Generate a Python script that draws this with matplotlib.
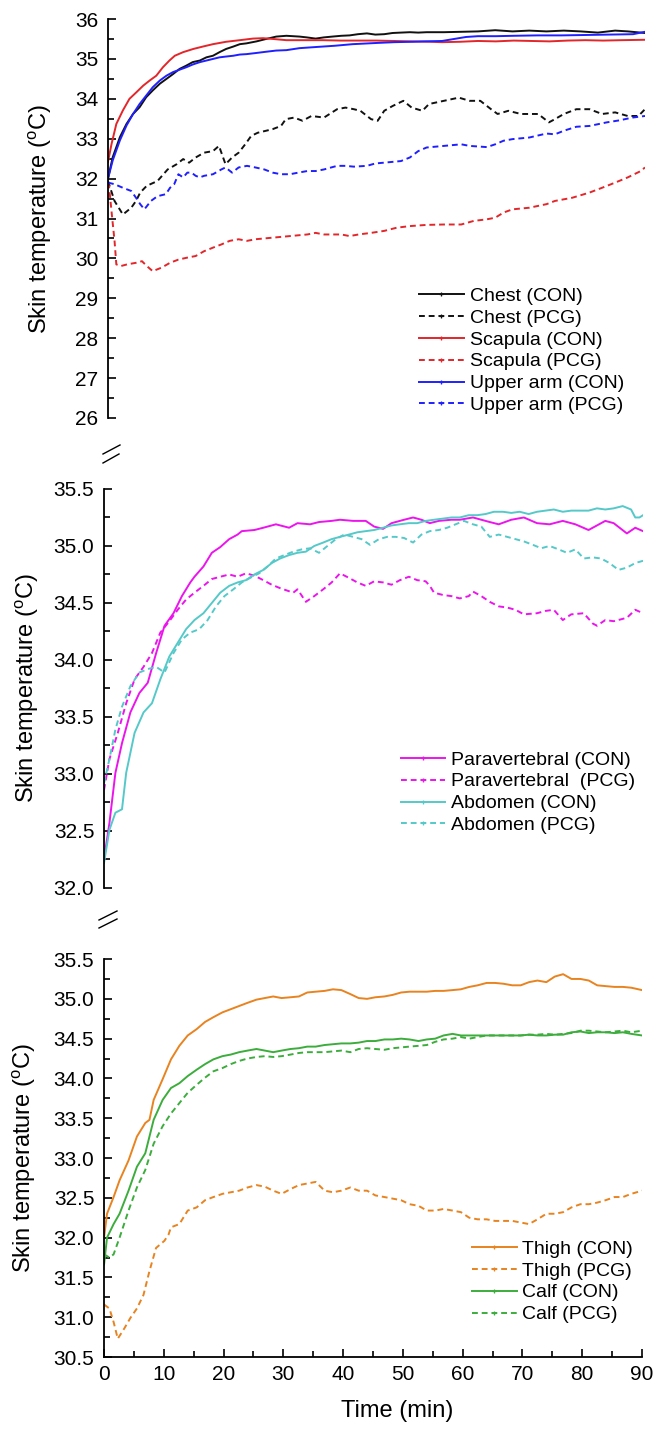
import matplotlib
matplotlib.use('Agg')
import matplotlib.pyplot as plt
from matplotlib.lines import Line2D
from matplotlib.ticker import MultipleLocator, FormatStrFormatter

plt.rcParams['font.family'] = ['Liberation Sans', 'DejaVu Sans']
plt.rcParams['mathtext.fontset'] = 'custom'
plt.rcParams['mathtext.rm'] = 'Liberation Sans'

# ---- top panel: chest, scapula, upper arm ----
chest_con_t = [0, 0.8, 2.0, 3.1, 4.2, 5.3, 6.4, 7.5, 8.7, 9.8, 10.9, 12.0, 13.1, 14.2, 15.4, 16.5,
               17.6, 18.7, 19.8, 21.0, 22.1, 23.2, 24.9, 26.5, 28.2, 29.9, 32.1, 33.3, 34.8, 36.2,
               37.6, 39.1, 40.5, 41.9, 43.4, 44.8, 46.3, 47.7, 49.1, 50.6, 52.0, 53.4, 56.3, 59.2,
               62.0, 64.9, 67.8, 70.6, 73.5, 76.4, 79.2, 82.1, 85.0, 87.1, 90.0]
chest_con_y = [32.0, 32.54, 33.04, 33.37, 33.62, 33.79, 34.04, 34.21, 34.38, 34.50, 34.62, 34.75,
               34.83, 34.92, 34.96, 35.04, 35.08, 35.17, 35.25, 35.31, 35.37, 35.39, 35.44, 35.50,
               35.56, 35.58, 35.56, 35.54, 35.51, 35.54, 35.56, 35.58, 35.59, 35.62, 35.64, 35.61,
               35.62, 35.65, 35.66, 35.67, 35.66, 35.67, 35.67, 35.68, 35.69, 35.72, 35.69, 35.71,
               35.69, 35.71, 35.69, 35.66, 35.71, 35.69, 35.65]

chest_pcg_t = [0, 1.1, 2.5, 3.9, 4.7, 5.4, 6.5, 8.3, 10.0, 11.5, 12.6, 13.6, 14.7, 16.1, 17.6, 18.6,
               19.7, 20.8, 21.9, 23.0, 24.0, 25.1, 26.5, 27.6, 29.0, 29.8, 31.2, 32.6, 34.1, 36.2,
               38.4, 39.8, 41.2, 42.3, 44.1, 45.2, 46.3, 47.7, 49.5, 50.9, 52.7, 53.8, 56.3, 58.8,
               60.6, 62.4, 64.2, 65.3, 67.1, 69.2, 72.1, 73.9, 74.9, 76.4, 78.5, 80.7, 82.8, 85.0,
               87.1, 88.9, 90.0]
chest_pcg_y = [31.94, 31.44, 31.10, 31.27, 31.44, 31.65, 31.82, 31.94, 32.23, 32.36, 32.49, 32.40,
               32.53, 32.65, 32.69, 32.82, 32.36, 32.53, 32.65, 32.86, 33.07, 33.15, 33.20, 33.24,
               33.32, 33.49, 33.53, 33.45, 33.57, 33.53, 33.74, 33.78, 33.74, 33.70, 33.49, 33.45,
               33.70, 33.82, 33.95, 33.78, 33.70, 33.87, 33.95, 34.03, 33.95, 33.95, 33.74, 33.62,
               33.70, 33.62, 33.62, 33.41, 33.49, 33.62, 33.74, 33.74, 33.62, 33.66, 33.57, 33.57,
               33.74]

scapula_con_t = [0, 0.6, 1.4, 2.5, 3.6, 4.8, 5.9, 7.0, 8.1, 9.2, 10.3, 11.2, 12.6, 14.3, 15.9, 17.6,
                 19.8, 22.1, 24.3, 26.0, 27.7, 29.9, 33, 36, 39, 42, 45, 48, 51, 54, 56, 59, 62,
                 65, 68, 71, 74, 77, 80, 83, 86, 90]
scapula_con_y = [32.42, 32.87, 33.37, 33.71, 34.0, 34.17, 34.33, 34.46, 34.58, 34.79, 34.96, 35.08,
                 35.17, 35.25, 35.31, 35.37, 35.43, 35.47, 35.51, 35.52, 35.50, 35.47, 35.47, 35.47,
                 35.46, 35.46, 35.46, 35.45, 35.44, 35.43, 35.42, 35.43, 35.45, 35.44, 35.46, 35.45,
                 35.44, 35.46, 35.47, 35.46, 35.47, 35.48]

scapula_pcg_t = [0, 0.2, 0.7, 1.1, 1.4, 2.2, 3.2, 4.7, 5.7, 6.5, 7.5, 9.0, 10.4, 11.8, 13.3, 14.7,
                 16.1, 17.6, 19.0, 20.4, 21.9, 23.3, 24.7, 27.6, 30.5, 33.4, 34.8, 36.2, 39.1, 40.5,
                 42.0, 44.1, 46.3, 48.4, 50.6, 53.4, 56.3, 59.2, 61.3, 63.5, 64.9, 66.3, 67.8, 70.6,
                 73.5, 74.9, 77.8, 80.7, 82.8, 85.0, 87.1, 89.3, 90.0]
scapula_pcg_y = [31.9, 31.77, 31.02, 30.44, 29.85, 29.81, 29.85, 29.89, 29.93, 29.81, 29.68, 29.77,
                 29.89, 29.97, 30.02, 30.06, 30.18, 30.27, 30.35, 30.44, 30.48, 30.44, 30.48, 30.52,
                 30.56, 30.60, 30.64, 30.60, 30.60, 30.56, 30.60, 30.64, 30.69, 30.77, 30.81, 30.84,
                 30.85, 30.85, 30.94, 30.98, 31.02, 31.15, 31.23, 31.27, 31.36, 31.44, 31.52, 31.65,
                 31.77, 31.90, 32.03, 32.19, 32.28]

upper_con_t = [0, 0.8, 2.0, 3.1, 4.2, 5.3, 6.4, 7.5, 8.7, 9.8, 10.9, 12.0, 13.1, 14.2, 15.4, 16.5,
               17.6, 18.7, 19.8, 21.0, 22.1, 23.2, 24.9, 26.5, 28.2, 29.9, 32.1, 35, 38, 41, 45,
               48, 51, 53, 56, 58, 60, 62, 65, 68, 72, 76, 80, 84, 88, 90]
upper_con_y = [32.0, 32.46, 32.96, 33.33, 33.62, 33.87, 34.08, 34.29, 34.46, 34.58, 34.67, 34.73,
               34.79, 34.86, 34.92, 34.96, 35.0, 35.04, 35.06, 35.08, 35.11, 35.12, 35.15, 35.18,
               35.21, 35.22, 35.27, 35.30, 35.33, 35.37, 35.40, 35.42, 35.43, 35.44, 35.45, 35.50,
               35.55, 35.57, 35.57, 35.58, 35.59, 35.59, 35.60, 35.61, 35.62, 35.68]

upper_pcg_t = [0, 1.1, 2.5, 3.9, 4.7, 5.4, 6.1, 7.2, 8.3, 9.7, 10.4, 11.1, 11.8, 12.6, 13.3, 14.0,
               14.7, 15.4, 16.1, 17.6, 19.0, 19.7, 20.8, 21.9, 23.3, 24.7, 26.2, 27.6, 29.0, 30.5,
               31.9, 33.4, 34.8, 36.2, 38.4, 39.8, 41.2, 43.4, 44.8, 46.3, 49.1, 50.6, 52.0, 53.4,
               56.3, 59.2, 60.6, 63.5, 64.9, 66.3, 67.8, 70.6, 73.5, 74.9, 76.4, 78.5, 80.7, 83.6,
               85.7, 87.9, 90.0]
upper_pcg_y = [31.90, 31.86, 31.77, 31.69, 31.52, 31.36, 31.23, 31.44, 31.56, 31.61, 31.77, 31.86,
               32.11, 32.03, 32.15, 32.15, 32.07, 32.03, 32.07, 32.11, 32.23, 32.28, 32.15, 32.28,
               32.32, 32.28, 32.23, 32.15, 32.11, 32.11, 32.15, 32.19, 32.19, 32.23, 32.32, 32.32,
               32.30, 32.32, 32.38, 32.40, 32.44, 32.53, 32.69, 32.78, 32.82, 32.86, 32.82, 32.79,
               32.86, 32.95, 32.99, 33.03, 33.13, 33.11, 33.20, 33.30, 33.32, 33.41, 33.46, 33.53,
               33.57]

# ---- middle panel: paravertebral, abdomen ----
para_con_t = [0, 0.9, 1.9, 3.0, 4.4, 5.9, 7.3, 8.7, 10.1, 11.6, 13.0, 14.4, 15.1, 16.6, 18.0, 19.4,
              20.9, 22.3, 23.0, 25.1, 26.6, 28.7, 30.9, 32.3, 34.4, 35.9, 38.0, 39.4, 41.6, 43.7,
              45.1, 46.6, 48.0, 50.1, 51.6, 53.0, 54.4, 55.9, 58.0, 59.4, 61.6, 63.0, 64.4, 65.9,
              68.0, 70.1, 72.3, 74.4, 76.6, 78.7, 80.9, 83.7, 85.1, 87.3, 88.7, 90.0]
para_con_y = [32.25, 32.57, 33.01, 33.27, 33.54, 33.71, 33.80, 34.06, 34.30, 34.41, 34.56, 34.68,
              34.73, 34.82, 34.94, 34.99, 35.06, 35.10, 35.13, 35.14, 35.16, 35.19, 35.16, 35.20,
              35.19, 35.21, 35.22, 35.23, 35.22, 35.22, 35.17, 35.15, 35.20, 35.23, 35.25, 35.23,
              35.20, 35.22, 35.23, 35.23, 35.25, 35.23, 35.21, 35.19, 35.23, 35.25, 35.20, 35.19,
              35.22, 35.19, 35.14, 35.22, 35.20, 35.11, 35.16, 35.13]

para_pcg_t = [0, 0.9, 2.3, 3.7, 5.1, 6.6, 8.0, 9.4, 10.9, 12.3, 13.7, 15.1, 16.6, 18.0, 19.4, 20.9,
              22.3, 23.7, 25.1, 26.6, 28.0, 29.4, 31.6, 32.3, 33.7, 35.1, 36.6, 38.0, 39.4, 40.9,
              42.3, 43.7, 45.1, 46.6, 48.0, 49.4, 50.9, 52.3, 53.7, 54.4, 55.1, 56.6, 58.0, 59.4,
              60.9, 61.6, 63.0, 64.4, 65.9, 67.3, 68.7, 70.1, 72.3, 73.7, 75.1, 76.6, 78.0, 80.1,
              81.6, 82.3, 83.7, 85.1, 87.3, 88.7, 90.0]
para_pcg_y = [32.86, 33.13, 33.36, 33.62, 33.83, 33.94, 34.06, 34.24, 34.34, 34.44, 34.53, 34.59,
              34.65, 34.71, 34.73, 34.75, 34.73, 34.76, 34.74, 34.70, 34.66, 34.63, 34.59, 34.62,
              34.51, 34.56, 34.62, 34.68, 34.76, 34.72, 34.68, 34.65, 34.69, 34.68, 34.66, 34.70,
              34.73, 34.70, 34.69, 34.65, 34.59, 34.57, 34.56, 34.54, 34.56, 34.60, 34.56, 34.51,
              34.47, 34.46, 34.44, 34.40, 34.41, 34.43, 34.44, 34.35, 34.40, 34.41, 34.32, 34.30,
              34.35, 34.34, 34.37, 34.44, 34.41]

abd_con_t = [0, 0.9, 1.9, 3.0, 3.7, 5.1, 6.6, 8.0, 9.4, 10.9, 12.3, 13.7, 15.1, 16.6, 18.0, 19.4,
             20.9, 22.3, 23.7, 25.1, 26.6, 28.0, 29.4, 30.9, 32.3, 33.7, 35.1, 36.6, 38.0, 39.4,
             40.9, 42.3, 43.7, 45.1, 46.6, 48.0, 49.4, 50.9, 52.3, 53.7, 55.1, 56.6, 58.0, 59.4,
             60.9, 62.3, 63.7, 65.1, 66.6, 68.0, 69.4, 70.9, 72.3, 73.7, 75.1, 76.6, 78.0, 79.4,
             80.9, 82.3, 83.7, 85.1, 86.6, 88.0, 88.7, 89.4, 90.0]
abd_con_y = [32.22, 32.51, 32.66, 32.69, 33.01, 33.36, 33.54, 33.62, 33.83, 34.03, 34.15, 34.27,
             34.35, 34.41, 34.50, 34.59, 34.65, 34.68, 34.70, 34.75, 34.79, 34.85, 34.89, 34.92,
             34.94, 34.95, 35.00, 35.03, 35.06, 35.08, 35.10, 35.12, 35.13, 35.14, 35.16, 35.18,
             35.19, 35.20, 35.20, 35.22, 35.23, 35.24, 35.25, 35.25, 35.27, 35.27, 35.28, 35.30,
             35.30, 35.29, 35.30, 35.28, 35.30, 35.31, 35.32, 35.30, 35.31, 35.31, 35.31, 35.33,
             35.32, 35.33, 35.35, 35.32, 35.25, 35.25, 35.27]

abd_pcg_t = [0, 0.9, 1.9, 3.0, 4.4, 5.9, 7.3, 8.7, 10.1, 11.6, 13.0, 14.4, 15.9, 17.3, 18.7, 20.1,
             21.6, 23.0, 24.4, 25.9, 27.3, 28.7, 30.1, 31.6, 33.0, 34.4, 35.9, 37.3, 38.7, 40.1,
             41.6, 43.0, 44.4, 45.9, 47.3, 48.7, 50.1, 51.6, 53.0, 54.4, 55.9, 57.3, 58.7, 60.1,
             61.6, 63.0, 64.4, 65.9, 67.3, 68.7, 70.1, 71.6, 73.0, 74.4, 75.9, 77.3, 78.7, 80.1,
             81.6, 83.0, 84.4, 85.9, 87.3, 88.7, 90.0]
abd_pcg_y = [32.92, 33.13, 33.39, 33.59, 33.77, 33.89, 33.92, 33.94, 33.89, 34.06, 34.18, 34.24,
             34.27, 34.35, 34.47, 34.56, 34.62, 34.68, 34.72, 34.76, 34.82, 34.89, 34.92, 34.95,
             34.97, 34.98, 34.94, 35.00, 35.06, 35.10, 35.08, 35.06, 35.01, 35.06, 35.08, 35.08,
             35.07, 35.03, 35.10, 35.13, 35.14, 35.16, 35.19, 35.22, 35.19, 35.17, 35.08, 35.10,
             35.08, 35.06, 35.04, 35.01, 34.98, 35.00, 34.97, 34.94, 34.97, 34.89, 34.90, 34.89,
             34.85, 34.79, 34.81, 34.85, 34.87]

# ---- bottom panel: thigh, calf ----
grid_t = [11.2, 12.6, 14.0, 15.5, 16.9, 18.3, 19.8, 21.2, 22.6, 24.0, 25.5, 26.9, 28.3, 29.7, 31.2,
          32.6, 34.0, 35.4, 36.9, 38.3, 39.7, 41.2, 42.6, 44.0, 45.4, 46.9, 48.3, 49.7, 51.1,
          52.6, 54.0, 55.4, 56.8, 58.3, 59.7, 61.1, 62.5, 64.0, 65.4, 66.8, 68.3, 69.7, 71.1,
          72.5, 74.0, 75.4, 76.8, 78.2, 79.7, 81.1, 82.5, 83.9, 85.4, 86.8, 88.2, 90.0]

thigh_con_t = [0, 0.5, 1.6, 2.6, 4.1, 5.5, 6.9, 7.6, 8.3, 9.8] + grid_t
thigh_con_y = [32.00, 32.30, 32.51, 32.72, 32.97, 33.27, 33.44, 33.48, 33.73, 33.99,
               34.24, 34.41, 34.54, 34.62, 34.71, 34.77, 34.83, 34.87, 34.91, 34.95, 34.99, 35.01,
               35.03, 35.01, 35.02, 35.03, 35.08, 35.09, 35.10, 35.12, 35.11, 35.06, 35.01, 35.00,
               35.02, 35.03, 35.05, 35.08, 35.09, 35.09, 35.09, 35.10, 35.10, 35.11, 35.12, 35.15,
               35.17, 35.20, 35.20, 35.19, 35.17, 35.17, 35.21, 35.23, 35.21, 35.28, 35.31, 35.25,
               35.25, 35.23, 35.17, 35.16, 35.15, 35.15, 35.14, 35.11]

thigh_pcg_t = [0, 0.9, 1.6, 2.3, 3.4, 4.4, 5.5, 6.6, 7.6, 8.7, 10.1, 10.8] + grid_t
thigh_pcg_y = [31.16, 31.11, 30.94, 30.73, 30.86, 30.99, 31.11, 31.28, 31.58, 31.87, 31.96, 32.04,
               32.13, 32.17, 32.34, 32.38, 32.47, 32.51, 32.55, 32.57, 32.59, 32.63, 32.66, 32.64,
               32.59, 32.55, 32.61, 32.66, 32.68, 32.70, 32.59, 32.57, 32.59, 32.63, 32.59, 32.59,
               32.53, 32.51, 32.49, 32.47, 32.42, 32.40, 32.34, 32.34, 32.36, 32.34, 32.32, 32.25,
               32.23, 32.23, 32.21, 32.21, 32.21, 32.19, 32.17, 32.23, 32.30, 32.30, 32.32, 32.38,
               32.42, 32.42, 32.44, 32.47, 32.51, 32.51, 32.55, 32.59]

calf_con_t = [0, 0.5, 1.6, 2.6, 4.1, 5.5, 6.9, 7.6, 8.3, 9.8] + grid_t
calf_con_y = [31.66, 32.00, 32.17, 32.30, 32.59, 32.89, 33.06, 33.27, 33.48, 33.73,
              33.88, 33.94, 34.03, 34.11, 34.18, 34.24, 34.28, 34.30, 34.33, 34.35, 34.37, 34.35,
              34.33, 34.35, 34.37, 34.38, 34.40, 34.40, 34.42, 34.43, 34.44, 34.44, 34.45, 34.47,
              34.47, 34.49, 34.49, 34.50, 34.49, 34.47, 34.49, 34.50, 34.54, 34.56, 34.54, 34.54,
              34.54, 34.54, 34.54, 34.54, 34.54, 34.54, 34.55, 34.54, 34.54, 34.55, 34.55, 34.58,
              34.59, 34.57, 34.58, 34.58, 34.57, 34.58, 34.56, 34.54]

calf_pcg_t = [0, 0.9, 1.6, 2.6, 4.1, 5.5, 6.9, 8.3, 9.8] + grid_t
calf_pcg_y = [31.79, 31.75, 31.79, 32.00, 32.34, 32.63, 32.85, 33.18, 33.40,
              33.56, 33.69, 33.82, 33.92, 34.01, 34.09, 34.13, 34.18, 34.22, 34.25, 34.27, 34.28,
              34.27, 34.28, 34.30, 34.32, 34.33, 34.33, 34.33, 34.34, 34.35, 34.33, 34.37, 34.38,
              34.37, 34.36, 34.38, 34.39, 34.40, 34.41, 34.42, 34.46, 34.49, 34.50, 34.52, 34.50,
              34.52, 34.54, 34.54, 34.54, 34.54, 34.54, 34.55, 34.55, 34.56, 34.55, 34.56, 34.57,
              34.60, 34.60, 34.59, 34.58, 34.59, 34.60, 34.58, 34.60]

BLACK = '#111111'
RED = '#e3262a'
BLUE = '#1f1fff'
MAGENTA = '#ec14ec'
CYAN = '#55c9c9'
ORANGE = '#e8831f'
GREEN = '#3cad3c'
LW = 1.4
DASH = (3, 2)
ylab = r'Skin temperature ($^{\mathrm{o}}$C)'

fig = plt.figure(figsize=(6.69, 14.31), dpi=100)
ax1 = fig.add_axes([0.1614, 0.7079, 0.8027, 0.2788])
ax2 = fig.add_axes([0.1555, 0.3795, 0.8057, 0.2788])
ax3 = fig.add_axes([0.1555, 0.0517, 0.8042, 0.2781])


def style(ax, lo, hi, major, minor, fmt, bottom=False):
    ax.set_xlim(0, 90)
    ax.set_ylim(lo, hi)
    ax.spines['top'].set_visible(False)
    ax.spines['right'].set_visible(False)
    ax.spines['left'].set_linewidth(1.3)
    ax.yaxis.set_major_locator(MultipleLocator(major))
    ax.yaxis.set_minor_locator(MultipleLocator(minor))
    ax.yaxis.set_major_formatter(FormatStrFormatter(fmt))
    ax.tick_params(axis='y', which='both', direction='in', labelsize=15, pad=7, width=1.2)
    ax.tick_params(axis='y', which='major', length=6)
    ax.tick_params(axis='y', which='minor', length=4)
    if bottom:
        ax.spines['bottom'].set_linewidth(1.3)
        ax.xaxis.set_major_locator(MultipleLocator(10))
        ax.xaxis.set_minor_locator(MultipleLocator(5))
        ax.tick_params(axis='x', which='both', direction='in', labelsize=15, pad=6, width=1.2)
        ax.tick_params(axis='x', which='major', length=6)
        ax.tick_params(axis='x', which='minor', length=4)
    else:
        ax.spines['bottom'].set_visible(False)
        ax.tick_params(axis='x', which='both', bottom=False, labelbottom=False)


def add_legend(ax, anchor):
    # legend keys carry a small symbol in the middle, as in the original
    handles = []
    labels = []
    for ln in ax.get_lines():
        handles.append(Line2D([], [], color=ln.get_color(), lw=LW, linestyle=ln.get_linestyle(),
                              dashes=DASH if ln.get_linestyle() == '--' else (None, None),
                              marker='+', markersize=3.5, markeredgewidth=0.9))
        labels.append(ln.get_label())
    ax.legend(handles, labels, loc='lower right', bbox_to_anchor=anchor, frameon=False,
              fontsize=14, handlelength=2.3, handletextpad=0.3, labelspacing=0.22,
              borderaxespad=0)


# top
ax1.plot(chest_con_t, chest_con_y, color=BLACK, lw=LW, label='Chest (CON)')
ax1.plot(chest_pcg_t, chest_pcg_y, color=BLACK, lw=LW, ls='--', dashes=DASH, label='Chest (PCG)')
ax1.plot(scapula_con_t, scapula_con_y, color=RED, lw=LW, label='Scapula (CON)')
ax1.plot(scapula_pcg_t, scapula_pcg_y, color=RED, lw=LW, ls='--', dashes=DASH, label='Scapula (PCG)')
ax1.plot(upper_con_t, upper_con_y, color=BLUE, lw=LW, label='Upper arm (CON)')
ax1.plot(upper_pcg_t, upper_pcg_y, color=BLUE, lw=LW, ls='--', dashes=DASH, label='Upper arm (PCG)')
style(ax1, 26, 36, 1, 0.5, '%d')
ax1.set_ylabel(ylab, fontsize=17)
ax1.yaxis.set_label_coords(-0.10, 0.5)
add_legend(ax1, (0.975, -0.01))

# middle
ax2.plot(para_con_t, para_con_y, color=MAGENTA, lw=LW, label='Paravertebral (CON)')
ax2.plot(para_pcg_t, para_pcg_y, color=MAGENTA, lw=LW, ls='--', dashes=DASH, label='Paravertebral  (PCG)')
ax2.plot(abd_con_t, abd_con_y, color=CYAN, lw=LW, label='Abdomen (CON)')
ax2.plot(abd_pcg_t, abd_pcg_y, color=CYAN, lw=LW, ls='--', dashes=DASH, label='Abdomen (PCG)')
style(ax2, 32, 35.5, 0.5, 0.25, '%.1f')
ax2.set_ylabel(ylab, fontsize=17)
ax2.yaxis.set_label_coords(-0.117, 0.5)
add_legend(ax2, (1.0, 0.115))

# bottom
ax3.plot(thigh_con_t, thigh_con_y, color=ORANGE, lw=LW, label='Thigh (CON)')
ax3.plot(thigh_pcg_t, thigh_pcg_y, color=ORANGE, lw=LW, ls='--', dashes=DASH, label='Thigh (PCG)')
ax3.plot(calf_con_t, calf_con_y, color=GREEN, lw=LW, label='Calf (CON)')
ax3.plot(calf_pcg_t, calf_pcg_y, color=GREEN, lw=LW, ls='--', dashes=DASH, label='Calf (PCG)')
style(ax3, 30.5, 35.5, 0.5, 0.25, '%.1f', bottom=True)
ax3.set_ylabel(ylab, fontsize=17)
ax3.yaxis.set_label_coords(-0.122, 0.5)
ax3.set_xlabel('Time (min)', fontsize=17)
ax3.xaxis.set_label_coords(0.545, -0.108)
add_legend(ax3, (0.998, 0.065))

# axis break marks "//" between panels (figure pixel positions)
W, H = 669.0, 1431.0
breaks = [((103, 454), (120, 445)), ((103, 463), (119, 454)),
          ((99, 920), (117, 911)), ((99, 928), (117, 919))]
for (x0, y0), (x1, y1) in breaks:
    fig.add_artist(Line2D([x0 / W, x1 / W], [1 - y0 / H, 1 - y1 / H],
                          transform=fig.transFigure, color='black', lw=1.0))

fig.savefig('out.png', dpi=100)
